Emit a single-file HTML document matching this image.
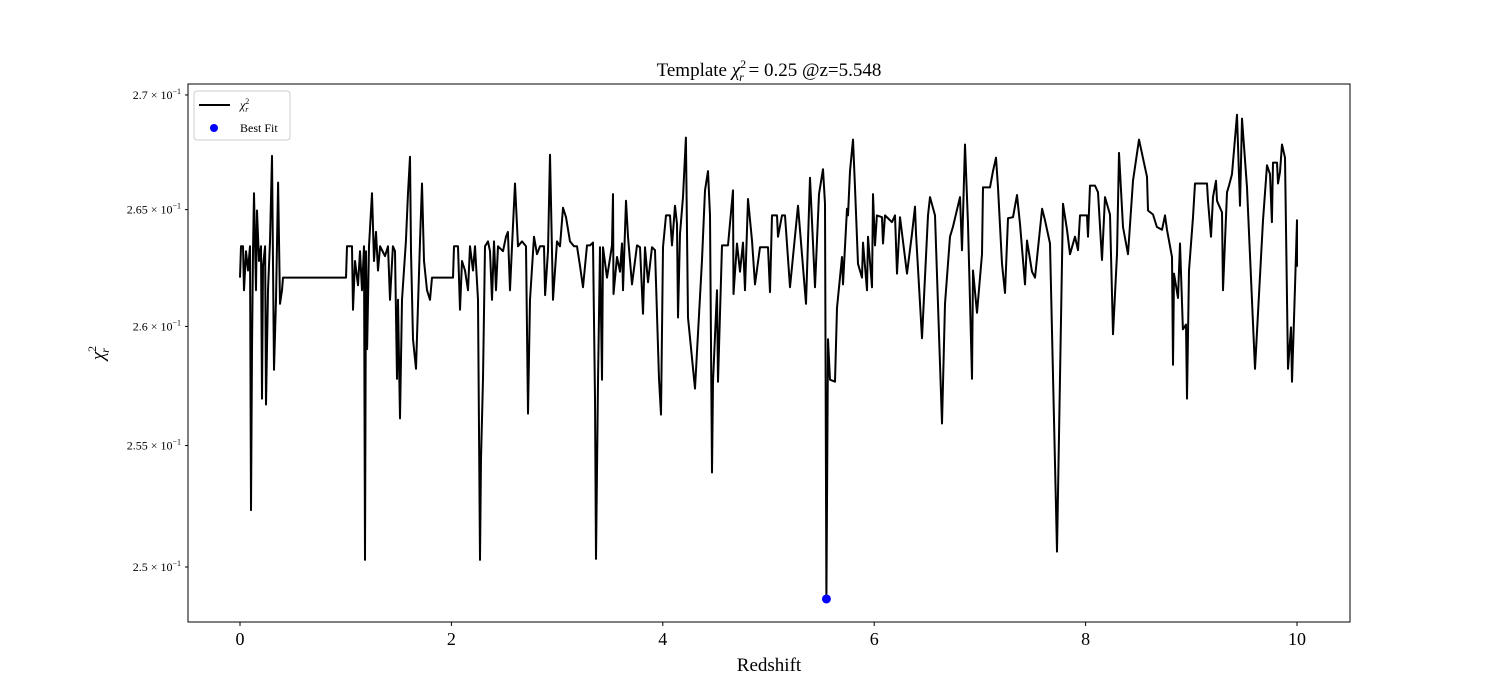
<!DOCTYPE html>
<html><head><meta charset="utf-8">
<style>
html,body{margin:0;padding:0;background:#fff;}
svg{display:block;font-family:"Liberation Serif","DejaVu Serif",serif;}
</style></head>
<body>
<svg id="chart" width="1500" height="700" xmlns="http://www.w3.org/2000/svg">
<rect width="1500" height="700" fill="#fff"/>
<text x="769" y="76" font-size="19" text-anchor="middle">Template <tspan font-style="italic">χ</tspan><tspan font-size="12" dy="-8">2</tspan><tspan font-size="12" font-style="italic" dx="-7" dy="13">r</tspan><tspan dy="-5"> = 0.25 @z=5.548</tspan></text>
<g id="plot"></g>
<rect x="188" y="84" width="1162" height="538" fill="none" stroke="#000" stroke-width="1"/>
<g id="xaxis"></g>
<g id="yaxis"></g>
<text x="769" y="671" font-size="19" text-anchor="middle">Redshift</text>
<text transform="translate(104,353) rotate(-90)" font-size="19" text-anchor="middle"><tspan font-style="italic">χ</tspan><tspan font-size="12" dy="-8">2</tspan><tspan font-size="12" font-style="italic" dx="-7" dy="13">r</tspan></text>
<g>
<rect x="194" y="91" width="96" height="49" rx="3" fill="#fff" stroke="#ccc" stroke-width="1"/>
<line x1="199" y1="105" x2="230" y2="105" stroke="#000" stroke-width="2"/>
<text x="240" y="109" font-size="12"><tspan font-style="italic">χ</tspan><tspan font-size="8" dy="-5">2</tspan><tspan font-size="8" font-style="italic" dx="-4" dy="8">r</tspan></text>
<circle cx="214" cy="128" r="4" fill="#0000ff"/>
<text x="240" y="132" font-size="12">Best Fit</text>
</g>
</svg>
<script>
const zValues = [0,0.009,0.028,0.038,0.057,0.076,0.095,0.104,0.114,0.123,0.132,0.151,0.161,0.18,0.199,0.208,0.218,0.237,0.246,0.265,0.284,0.303,0.322,0.341,0.36,0.378,0.397,0.407,
1.003,1.012,1.06,1.069,1.088,1.116,1.135,1.154,1.173,1.183,1.192,1.202,1.22,1.249,1.268,1.287,1.306,1.325,1.372,1.4,1.419,1.447,1.466,1.485,1.495,1.514,1.533,1.57,1.589,1.608,1.618,1.637,1.665,1.703,1.722,1.741,1.769,1.798,1.816,
2.015,2.025,2.062,2.081,2.1,2.129,2.157,2.176,2.204,2.223,2.252,2.271,2.28,2.299,2.318,2.346,2.365,2.384,2.403,2.422,2.441,2.488,2.517,2.535,2.554,2.573,2.602,2.63,2.668,2.706,2.725,2.744,2.781,2.81,2.838,2.876,2.886,2.914,2.933,2.961,2.999,3.027,3.056,3.084,3.122,3.16,3.188,3.217,3.245,3.283,3.311,3.34,
3.359,3.368,3.387,3.406,3.425,3.434,3.472,3.519,3.529,3.534,3.567,3.595,3.614,3.623,3.652,3.671,3.709,3.756,3.784,3.813,3.832,3.86,3.898,3.926,3.964,3.983,4.002,4.03,4.068,4.087,4.115,4.134,4.144,4.163,4.191,4.219,4.238,4.305,4.371,4.399,4.428,4.447,4.465,4.475,4.513,4.522,4.56,4.617,4.664,4.669,4.702,4.73,4.759,4.778,4.806,4.844,4.872,4.92,4.995,5.014,5.033,5.08,5.09,5.128,5.156,5.203,5.279,5.355,5.393,5.44,5.478,5.516,5.535,5.548,5.563,5.582,5.629,5.648,5.695,5.705,5.743,5.752,5.771,5.799,5.818,5.847,5.885,5.894,5.932,5.941,5.979,5.989,6.008,6.026,6.074,6.083,6.102,6.168,6.197,6.216,6.244,6.31,6.358,6.386,6.395,6.452,6.509,6.528,6.575,6.641,6.67,6.717,6.745,6.812,
6.831,6.859,6.887,6.925,6.935,6.973,7.02,7.029,7.096,7.124,7.152,7.171,7.209,7.237,7.266,7.313,7.351,7.379,7.427,7.446,7.493,7.521,7.588,7.616,7.663,7.729,7.786,7.824,7.852,7.9,7.928,7.947,8.013,8.023,8.042,8.089,8.117,8.155,8.184,8.231,8.259,8.297,8.316,8.354,8.401,8.448,8.505,8.581,8.59,8.638,8.675,8.723,8.751,8.77,8.817,8.827,8.836,8.874,8.893,8.921,8.95,8.959,8.978,9.016,9.035,9.149,9.158,9.186,9.205,9.234,9.243,9.29,9.3,9.338,9.357,9.385,9.432,9.461,9.48,9.527,9.603,9.678,9.716,9.745,9.763,9.773,9.811,9.82,9.839,9.858,9.886,9.915,9.943,9.953,9.981,10.0,10.0];
const chiValues = [0.26208,0.26342,0.26342,0.26154,0.26321,0.26238,0.26342,0.25233,0.25904,0.26321,0.26571,0.26154,0.26496,0.26279,0.26342,0.25696,0.26258,0.26342,0.25671,0.26154,0.26363,0.26733,0.25817,0.26113,0.26617,0.26096,0.26154,0.26208,
0.26208,0.26342,0.26342,0.26071,0.26279,0.26175,0.26321,0.26154,0.26342,0.25029,0.26321,0.25904,0.26342,0.26571,0.26279,0.26404,0.26238,0.26342,0.263,0.26342,0.26113,0.26342,0.26321,0.25779,0.26113,0.25613,0.26113,0.26363,0.26571,0.26729,0.26321,0.25946,0.25821,0.26363,0.26613,0.26279,0.26154,0.26113,0.26208,
0.26208,0.26342,0.26342,0.26071,0.26279,0.26238,0.26154,0.26342,0.26238,0.26342,0.26113,0.25029,0.25446,0.25779,0.26342,0.26363,0.26321,0.26113,0.26363,0.26154,0.26342,0.26321,0.26383,0.26404,0.26154,0.26342,0.26613,0.26342,0.26363,0.26342,0.25633,0.26113,0.26383,0.26308,0.26342,0.26342,0.26133,0.26321,0.26738,0.26113,0.26363,0.26342,0.26508,0.26467,0.26363,0.26342,0.26342,0.26258,0.26167,0.26346,0.26346,0.26358,
0.25696,0.25033,0.25767,0.26338,0.25775,0.26338,0.26208,0.26346,0.26567,0.26138,0.26296,0.26233,0.26354,0.26154,0.26538,0.26383,0.26179,0.26346,0.26338,0.26054,0.26338,0.26188,0.26338,0.26325,0.25779,0.25629,0.26338,0.26475,0.26475,0.26346,0.26517,0.26438,0.26038,0.26396,0.26554,0.26813,0.26038,0.25738,0.26283,0.26583,0.26667,0.26475,0.25388,0.25767,0.26154,0.25767,0.26346,0.26346,0.26583,0.26138,0.26354,0.26233,0.26358,0.26154,0.26546,0.26367,0.26179,0.26338,0.26338,0.26146,0.26475,0.26475,0.26383,0.26475,0.26475,0.26167,0.26517,0.26096,0.26638,0.26167,0.26567,0.26675,0.26525,0.2487,0.25946,0.25775,0.25767,0.26079,0.26296,0.26179,0.26504,0.26475,0.26667,0.26804,0.26596,0.26267,0.26208,0.26358,0.26154,0.26383,0.26167,0.26567,0.26346,0.26475,0.26467,0.26354,0.26475,0.26446,0.26475,0.26225,0.26467,0.26225,0.26396,0.26513,0.26396,0.2595,0.26475,0.26554,0.26475,0.25592,0.26096,0.26383,0.26425,0.26554,
0.26325,0.26783,0.26438,0.25779,0.26238,0.26058,0.26308,0.26596,0.26596,0.26667,0.26725,0.26596,0.26267,0.26142,0.26463,0.26467,0.26563,0.26438,0.26179,0.26367,0.26233,0.26208,0.26504,0.26454,0.26354,0.25063,0.26525,0.26413,0.26308,0.26383,0.26325,0.26475,0.26475,0.26383,0.26604,0.26604,0.26575,0.26283,0.26554,0.26479,0.25967,0.26308,0.26746,0.26425,0.26308,0.26625,0.26804,0.26642,0.26496,0.26479,0.26425,0.26413,0.26475,0.26413,0.26296,0.25838,0.26225,0.26121,0.26354,0.25988,0.26008,0.25696,0.26238,0.26467,0.26613,0.26613,0.26538,0.26383,0.26554,0.26625,0.26538,0.26488,0.26154,0.26575,0.26604,0.26654,0.26913,0.26517,0.26896,0.26596,0.25821,0.26454,0.26692,0.26654,0.26446,0.26704,0.26704,0.26613,0.26663,0.26783,0.26725,0.25821,0.25996,0.25767,0.26167,0.26454,0.26254];
const bestFitZ = 5.548;
const bestFitChi = 0.2487;
const xTicks = [0,2,4,6,8,10];
const yTicks = [0.25,0.255,0.26,0.265,0.27];
const yTickLabels = ["2.5","2.55","2.6","2.65","2.7"];

const NS = "http://www.w3.org/2000/svg";
function xs(z){ return 240 + z * 105.7; }
function ys(v){ return 567 - Math.log10(v / 0.25) * 14123; }

const plot = document.getElementById('plot');
let d = "";
const n = Math.min(zValues.length, chiValues.length);
for (let i = 0; i < n; i++) {
  d += (i ? "L" : "M") + xs(zValues[i]).toFixed(1) + "," + ys(chiValues[i]).toFixed(1);
}
const path = document.createElementNS(NS, 'path');
path.setAttribute('d', d);
path.setAttribute('fill', 'none');
path.setAttribute('stroke', '#000');
path.setAttribute('stroke-width', '2');
path.setAttribute('stroke-linejoin', 'round');


plot.appendChild(path);

const dot = document.createElementNS(NS, 'circle');
dot.setAttribute('cx', xs(bestFitZ));
dot.setAttribute('cy', ys(bestFitChi));
dot.setAttribute('r', '4.5');
dot.setAttribute('fill', '#0000ff');


plot.appendChild(dot);

const xa = document.getElementById('xaxis');
xTicks.forEach(t => {
  const x = xs(t);
  const ln = document.createElementNS(NS, 'line');
  ln.setAttribute('x1', x); ln.setAttribute('x2', x);
  ln.setAttribute('y1', 622); ln.setAttribute('y2', 626);
  ln.setAttribute('stroke', '#000');
  
  
  xa.appendChild(ln);
  const tx = document.createElementNS(NS, 'text');
  tx.setAttribute('x', x); tx.setAttribute('y', 645);
  tx.setAttribute('font-size', '18');
  tx.setAttribute('text-anchor', 'middle');
  tx.textContent = t;
  
  
  xa.appendChild(tx);
});

const ya = document.getElementById('yaxis');
yTicks.forEach((t, i) => {
  const y = ys(t);
  const ln = document.createElementNS(NS, 'line');
  ln.setAttribute('x1', 185); ln.setAttribute('x2', 188);
  ln.setAttribute('y1', y); ln.setAttribute('y2', y);
  ln.setAttribute('stroke', '#000');
  
  
  ya.appendChild(ln);
  const tx = document.createElementNS(NS, 'text');
  tx.setAttribute('x', 181); tx.setAttribute('y', y + 4);
  tx.setAttribute('font-size', '12');
  tx.setAttribute('text-anchor', 'end');
  tx.innerHTML = yTickLabels[i] + ' × 10<tspan font-size="8" dy="-5">−1</tspan>';
  
  
  ya.appendChild(tx);
});
</script>
</body></html>
